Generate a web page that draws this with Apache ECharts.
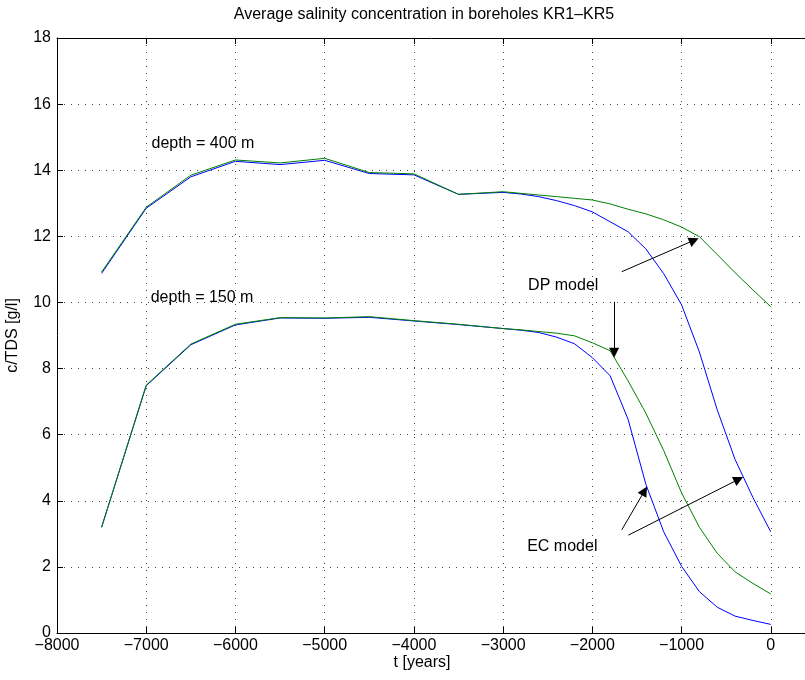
<!DOCTYPE html>
<html>
<head>
<meta charset="utf-8">
<script src="https://cdn.jsdelivr.net/npm/echarts@6/dist/echarts.min.js"></script>
<style>html,body{margin:0;padding:0;background:#fff}#c{width:805px;height:680px}</style>
</head>
<body>
<div id="c"></div>
<script>
const titleText = 'Average salinity concentration in boreholes KR1\u2013KR5';
const xLabel = 't [years]';
const yLabel = 'c/TDS [g/l]';
const years = [-7500,-7000,-6500,-6000,-5500,-5000,-4500,-4000,-3500,-3000,-2800,-2600,-2400,-2200,-2000,-1800,-1600,-1400,-1200,-1000,-800,-600,-400,-200,0];
const ec400 = [10.88,12.85,13.80,14.27,14.17,14.30,13.90,13.86,13.27,13.33,13.28,13.20,13.08,12.93,12.74,12.44,12.14,11.62,10.87,9.93,8.50,6.75,5.25,4.10,3.06];
const dp400 = [10.92,12.88,13.85,14.31,14.22,14.36,13.93,13.89,13.27,13.35,13.30,13.25,13.20,13.15,13.10,12.98,12.82,12.68,12.50,12.28,11.99,11.45,10.90,10.38,9.87];
const ec150 = [3.20,7.48,8.72,9.32,9.53,9.52,9.55,9.44,9.33,9.21,9.16,9.09,8.95,8.75,8.33,7.78,6.47,4.50,3.06,2.02,1.25,0.78,0.51,0.38,0.26];
const dp150 = [3.20,7.50,8.74,9.34,9.54,9.53,9.57,9.45,9.34,9.21,9.17,9.12,9.07,8.99,8.78,8.54,7.63,6.65,5.52,4.24,3.20,2.41,1.85,1.50,1.18];
const xTicks = {min:-8000, max:1000, interval:1000};
const yTicks = {min:0, max:18, interval:2};
// annotations in data coordinates
const texts = [
  {t:'depth = 400 m', x:-6940, y:14.82},
  {t:'depth = 150 m', x:-6950, y:10.15},
  {t:'DP model', x:-2720, y:10.5},
  {t:'EC model', x:-2730, y:2.6}
];
const arrows = [
  {from:[-1670,10.93], to:[-860,11.88]},
  {from:[-1756,10.02], to:[-1756,8.48]},
  {from:[-1670,3.12], to:[-1415,4.30]},
  {from:[-1596,2.96], to:[-360,4.65]}
];

const FONT = 'Liberation Sans, Arial, sans-serif';
const chart = echarts.init(document.getElementById('c'), null, {renderer:'canvas'});
const zip = (a,b) => a.map((v,i)=>[v,b[i]]);
const mkLine = (name, data, color) => ({
  name, type:'line', data, showSymbol:false, symbol:'none', animation:false,
  lineStyle:{color, width:1}, itemStyle:{color}, xAxisIndex:0, yAxisIndex:0, silent:true
});
const option = {
  animation:false,
  backgroundColor:'#fff',
  grid:{left:57, top:38, width:803, height:595, containLabel:false, outerBoundsMode:'none'},
  xAxis:[{
    type:'value', min:xTicks.min, max:xTicks.max, interval:xTicks.interval, position:'bottom',
    axisLine:{show:true, onZero:false, lineStyle:{color:'#000', width:1}},
    axisTick:{show:true, inside:true, length:6, lineStyle:{color:'#000'}},
    axisLabel:{color:'#000', fontFamily:FONT, fontSize:16, margin:5, formatter:v=>String(v).replace('-','\u2212')},
    splitLine:{show:true, lineStyle:{color:'#444', width:1, type:[1,6]}}
  },{
    type:'value', min:xTicks.min, max:xTicks.max, interval:xTicks.interval, position:'top',
    axisLine:{show:true, onZero:false, lineStyle:{color:'#000', width:1}},
    axisTick:{show:true, inside:true, length:6, lineStyle:{color:'#000'}},
    axisLabel:{show:false}, splitLine:{show:false}
  }],
  yAxis:[{
    type:'value', min:yTicks.min, max:yTicks.max, interval:yTicks.interval,
    name:yLabel, nameLocation:'middle', nameGap:36, nameRotate:90,
    nameTextStyle:{color:'#000', fontFamily:FONT, fontSize:16},
    axisLine:{show:true, onZero:false, lineStyle:{color:'#000', width:1}},
    axisTick:{show:true, inside:true, length:6, lineStyle:{color:'#000'}},
    axisLabel:{color:'#000', fontFamily:FONT, fontSize:16, margin:6},
    splitLine:{show:true, lineStyle:{color:'#444', width:1, type:[1,6]}}
  }],
  series:[
    mkLine('EC 400', zip(years, ec400), '#0000ff'),
    mkLine('EC 150', zip(years, ec150), '#0000ff'),
    mkLine('DP 400', zip(years, dp400), '#008000'),
    mkLine('DP 150', zip(years, dp150), '#008000'),
    {
      type:'line', data:[], silent:true, animation:false,
      markLine:{
        silent:true, animation:false, symbol:['none','triangle'], symbolSize:10,
        label:{show:false},
        lineStyle:{color:'#000', width:1, type:'solid'},
        itemStyle:{color:'#000'},
        data: arrows.map(a=>[{coord:a.from},{coord:a.to}])
      }
    }
  ]
};
chart.setOption(option);
const g = [];
g.push({type:'text', x:424, y:15, style:{text:titleText, font:'16px '+FONT, fill:'#000', textAlign:'center', textVerticalAlign:'middle'}});
g.push({type:'text', x:422, y:663, style:{text:xLabel, font:'16px '+FONT, fill:'#000', textAlign:'center', textVerticalAlign:'middle'}});
texts.forEach(t=>{
  const p = chart.convertToPixel({xAxisIndex:0, yAxisIndex:0}, [t.x, t.y]);
  g.push({type:'text', x:p[0], y:p[1], style:{text:t.t, font:'16px '+FONT, fill:'#000', textAlign:'left', textVerticalAlign:'middle'}});
});
chart.setOption({graphic:g});
</script>
</body>
</html>
